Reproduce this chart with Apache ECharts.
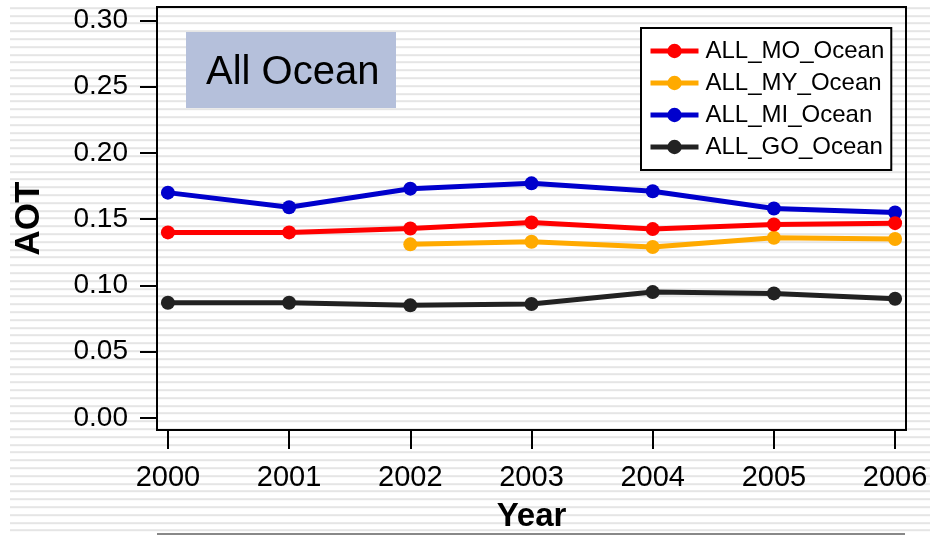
<!DOCTYPE html>
<html>
<head>
<meta charset="utf-8">
<script src="https://cdn.jsdelivr.net/npm/echarts@6/dist/echarts.min.js"></script>
<style>
  html, body { margin: 0; padding: 0; background: #fff; }
  #stripes {
    position: absolute; left: 10px; top: 0; width: 920px; height: 535px;
    background: repeating-linear-gradient(to bottom, rgba(0,0,0,0) 0px, rgba(0,0,0,0) 5.8px, #e5e5e5 5.8px, #e5e5e5 7.8px);
    background-position: 0 1.2px;
  }
  #chart { position: absolute; left: 0; top: 0; width: 930px; height: 535px; }
</style>
</head>
<body>
<div id="stripes"></div>
<div id="chart"></div>
<script>
const years = [2000, 2001, 2002, 2003, 2004, 2005, 2006]
const yTicks = [0, 0.05, 0.1, 0.15, 0.2, 0.25, 0.3]
const seriesNames = ['ALL_MO_Ocean', 'ALL_MY_Ocean', 'ALL_MI_Ocean', 'ALL_GO_Ocean']
const moOcean = [0.140, 0.140, 0.143, 0.1475, 0.1425, 0.146, 0.147]
const myOcean = [null, null, 0.131, 0.133, 0.129, 0.136, 0.135]
const miOcean = [0.170, 0.159, 0.173, 0.177, 0.171, 0.158, 0.155]
const goOcean = [0.087, 0.087, 0.085, 0.086, 0.095, 0.094, 0.090]
const colors = ['#ff0000', '#ffaa00', '#0000cc', '#222222']

const font = 'Liberation Sans, Arial, sans-serif'

function pairs (vals) {
  const out = []
  vals.forEach((v, i) => {
    if (v !== null) out.push([years[i], v])
  })
  return out
}

const allValues = [moOcean, myOcean, miOcean, goOcean]
const series = allValues.map((vals, i) => ({
  name: seriesNames[i],
  type: 'line',
  data: pairs(vals),
  symbol: 'circle',
  symbolSize: 14,
  lineStyle: { width: 5, color: colors[i] },
  itemStyle: { color: colors[i] },
  z: 10 - i
}))

const chart = echarts.init(document.getElementById('chart'))
chart.setOption({
  backgroundColor: 'transparent',
  animation: false,
  color: colors,
  grid: {
    left: 157,
    top: 7,
    right: 24,
    bottom: 105,
    outerBoundsMode: 'none',
    containLabel: false,
    show: true,
    borderColor: '#000',
    borderWidth: 2,
    backgroundColor: 'transparent'
  },
  legend: {
    orient: 'vertical',
    left: 641,
    top: 28,
    backgroundColor: '#fff',
    borderColor: '#000',
    borderWidth: 2,
    borderRadius: 0,
    padding: [11, 7, 11, 7],
    itemGap: 8,
    itemWidth: 48,
    itemHeight: 18,
    lineStyle: { width: 5 },
    textStyle: { fontFamily: font, fontSize: 24, color: '#000', lineHeight: 24, padding: [0, 0, 0, 2] },
    data: seriesNames
  },
  xAxis: {
    type: 'value',
    min: 1999.91,
    max: 2006.09,
    name: 'Year',
    nameLocation: 'middle',
    nameGap: 70,
    nameTextStyle: { fontFamily: font, fontSize: 33, fontWeight: 'bold', color: '#000' },
    axisLine: { show: true, onZero: false, lineStyle: { color: '#000', width: 2 } },
    axisTick: { show: true, customValues: years, length: 19, lineStyle: { color: '#000', width: 2 } },
    axisLabel: {
      customValues: years,
      margin: 33,
      fontFamily: font,
      fontSize: 29,
      color: '#000',
      formatter: v => String(Math.round(v))
    },
    splitLine: { show: false }
  },
  yAxis: {
    type: 'value',
    min: -0.009,
    max: 0.31,
    name: 'AOT',
    nameLocation: 'middle',
    nameGap: 110,
    nameRotate: 90,
    nameTextStyle: { fontFamily: font, fontSize: 35, fontWeight: 'bold', color: '#000' },
    axisLine: { show: true, lineStyle: { color: '#000', width: 2 } },
    axisTick: { show: true, customValues: yTicks, length: 17, lineStyle: { color: '#000', width: 2 } },
    axisLabel: {
      customValues: yTicks,
      margin: 29,
      fontFamily: font,
      fontSize: 28,
      color: '#000',
      formatter: v => v.toFixed(2)
    },
    splitLine: { show: false }
  },
  graphic: [
    {
      type: 'rect',
      left: 186,
      top: 32,
      shape: { width: 210, height: 76 },
      style: { fill: '#b5c0db' },
      z: 1
    },
    {
      type: 'text',
      x: 206,
      y: 73,
      style: {
        text: 'All Ocean',
        font: '40px "Liberation Sans", Arial, sans-serif',
        fill: '#000',
        verticalAlign: 'middle'
      },
      z: 2
    },
    {
      type: 'line',
      shape: { x1: 157, y1: 534, x2: 905, y2: 534 },
      style: { stroke: '#888', lineWidth: 2 }
    }
  ],
  series: series
})
</script>
</body>
</html>
